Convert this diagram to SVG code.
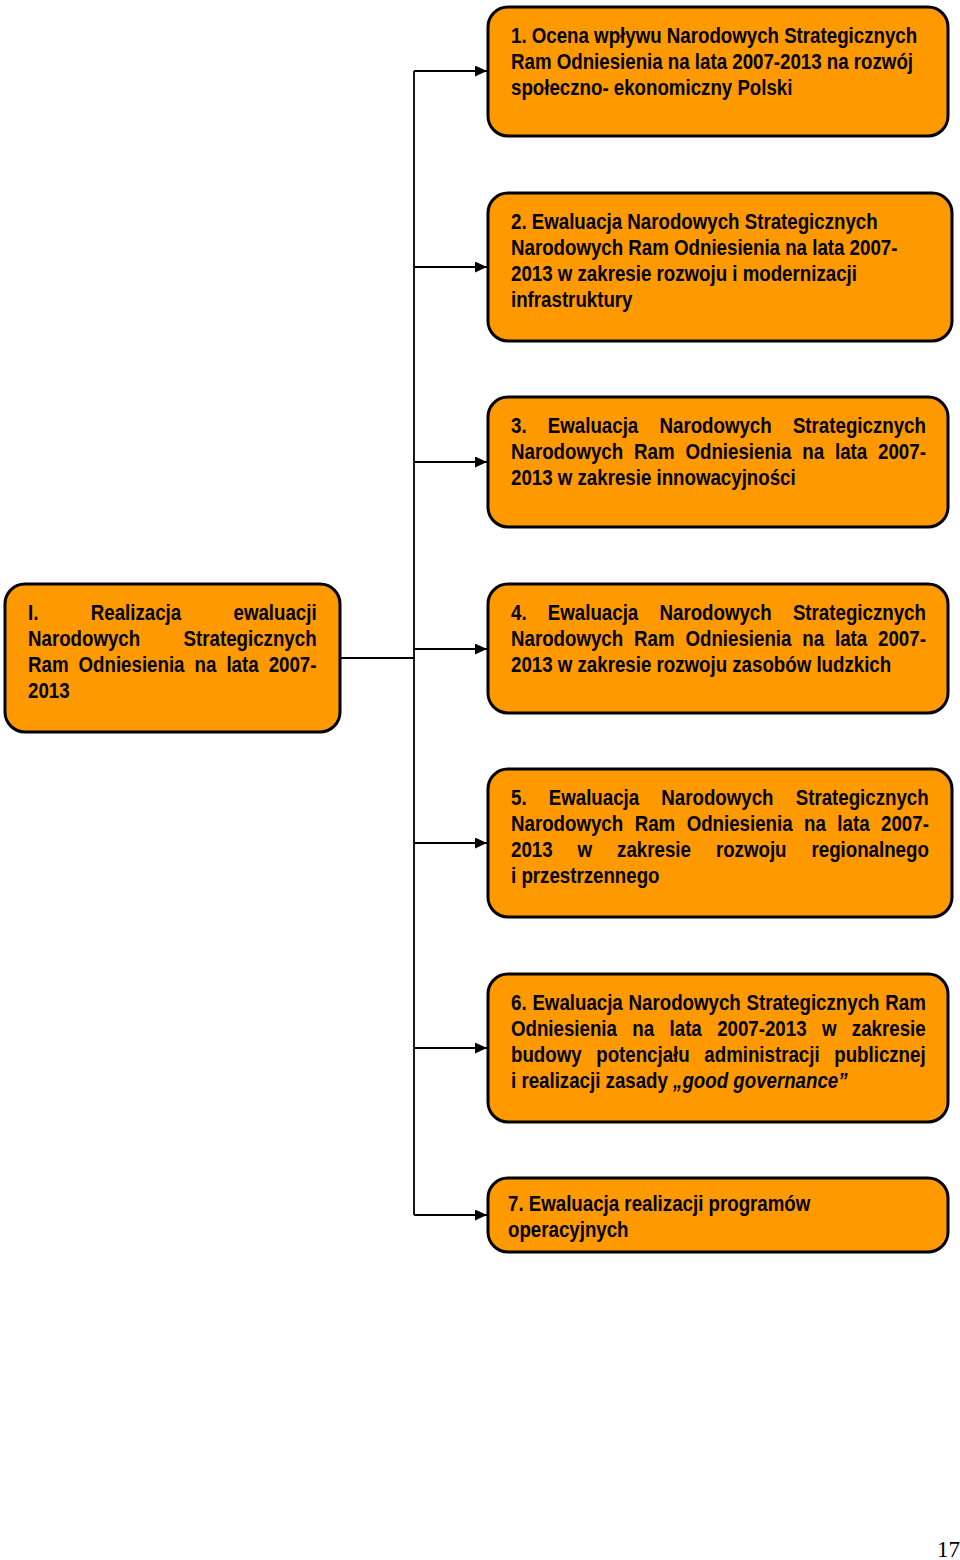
<svg xmlns="http://www.w3.org/2000/svg" width="960" height="1560" viewBox="0 0 960 1560">
<style>
.box{fill:#FF9900;stroke:#000;stroke-width:3}
.t{font-family:"Liberation Sans",Arial,sans-serif;font-weight:bold;font-size:22px;fill:#000}
.it{font-style:italic}
.c{fill:none;stroke:#000;stroke-width:1.8}
.pg{font-family:"Liberation Serif","Times New Roman",serif;font-size:23px;fill:#000}
</style>
<defs>
<marker id="ah" markerUnits="userSpaceOnUse" markerWidth="12" markerHeight="11" refX="12" refY="5.5" orient="auto">
<path d="M0,0 L12,5.5 L0,11 z" fill="#000"/>
</marker>
</defs>
<rect width="960" height="1560" fill="#fff"/>
<g id="connectors">
<path class="c" d="M414,71 V1215"/>
<path class="c" d="M340,658 H414"/>
<path class="c" d="M414,71 H487" marker-end="url(#ah)"/>
<path class="c" d="M414,267 H487" marker-end="url(#ah)"/>
<path class="c" d="M414,462 H487" marker-end="url(#ah)"/>
<path class="c" d="M414,649 H487" marker-end="url(#ah)"/>
<path class="c" d="M414,843 H487" marker-end="url(#ah)"/>
<path class="c" d="M414,1048 H487" marker-end="url(#ah)"/>
<path class="c" d="M414,1215 H487" marker-end="url(#ah)"/>
</g>
<g id="nodeI">
<rect class="box" x="5" y="584" width="335" height="148" rx="20"/>
<text class="t" transform="translate(28,620) scale(0.85,1)" style="word-spacing:55.5px">I. Realizacja ewaluacji</text>
<text class="t" transform="translate(28,646) scale(0.85,1)" style="word-spacing:45px">Narodowych Strategicznych</text>
<text class="t" transform="translate(28,672) scale(0.85,1)" style="word-spacing:5.7px">Ram Odniesienia na lata 2007-</text>
<text class="t" transform="translate(28,698) scale(0.85,1)">2013</text>
</g>
<g id="node1">
<rect class="box" x="488" y="7" width="460" height="129" rx="20"/>
<text class="t" transform="translate(511,43) scale(0.85,1)">1. Ocena wpływu Narodowych Strategicznych</text>
<text class="t" transform="translate(511,69) scale(0.85,1)">Ram Odniesienia na lata 2007-2013 na rozwój</text>
<text class="t" transform="translate(511,95) scale(0.85,1)">społeczno- ekonomiczny Polski</text>
</g>
<g id="node2">
<rect class="box" x="488" y="193" width="464" height="148" rx="20"/>
<text class="t" transform="translate(511,229) scale(0.85,1)">2. Ewaluacja Narodowych Strategicznych</text>
<text class="t" transform="translate(511,255) scale(0.85,1)">Narodowych Ram Odniesienia na lata 2007-</text>
<text class="t" transform="translate(511,281) scale(0.85,1)">2013 w zakresie rozwoju i modernizacji</text>
<text class="t" transform="translate(511,307) scale(0.85,1)">infrastruktury</text>
</g>
<g id="node3">
<rect class="box" x="488" y="397" width="460" height="130" rx="20"/>
<text class="t" transform="translate(511,433) scale(0.85,1)" style="word-spacing:18.9px">3. Ewaluacja Narodowych Strategicznych</text>
<text class="t" transform="translate(511,459) scale(0.85,1)" style="word-spacing:6.7px">Narodowych Ram Odniesienia na lata 2007-</text>
<text class="t" transform="translate(511,485) scale(0.85,1)">2013 w zakresie innowacyjności</text>
</g>
<g id="node4">
<rect class="box" x="488" y="584" width="460" height="129" rx="20"/>
<text class="t" transform="translate(511,620) scale(0.85,1)" style="word-spacing:18.9px">4. Ewaluacja Narodowych Strategicznych</text>
<text class="t" transform="translate(511,646) scale(0.85,1)" style="word-spacing:6.7px">Narodowych Ram Odniesienia na lata 2007-</text>
<text class="t" transform="translate(511,672) scale(0.85,1)">2013 w zakresie rozwoju zasobów ludzkich</text>
</g>
<g id="node5">
<rect class="box" x="488" y="769" width="464" height="148" rx="20"/>
<text class="t" transform="translate(511,805) scale(0.85,1)" style="word-spacing:20px">5. Ewaluacja Narodowych Strategicznych</text>
<text class="t" transform="translate(511,831) scale(0.85,1)" style="word-spacing:7.4px">Narodowych Ram Odniesienia na lata 2007-</text>
<text class="t" transform="translate(511,857) scale(0.85,1)" style="word-spacing:23.3px">2013 w zakresie rozwoju regionalnego</text>
<text class="t" transform="translate(511,883) scale(0.85,1)">i przestrzennego</text>
</g>
<g id="node6">
<rect class="box" x="488" y="974" width="460" height="148" rx="20"/>
<text class="t" transform="translate(511,1010) scale(0.85,1)" style="word-spacing:0.7px">6. Ewaluacja Narodowych Strategicznych Ram</text>
<text class="t" transform="translate(511,1036) scale(0.85,1)" style="word-spacing:12px">Odniesienia na lata 2007-2013 w zakresie</text>
<text class="t" transform="translate(511,1062) scale(0.85,1)" style="word-spacing:11.1px">budowy potencjału administracji publicznej</text>
<text class="t" transform="translate(511,1088) scale(0.85,1)">i realizacji zasady <tspan class="it">„good governance”</tspan></text>
</g>
<g id="node7">
<rect class="box" x="488" y="1178" width="460" height="74" rx="20"/>
<text class="t" transform="translate(508,1211) scale(0.85,1)">7. Ewaluacja realizacji programów</text>
<text class="t" transform="translate(508,1237) scale(0.85,1)">operacyjnych</text>
</g>
<text class="pg" x="937" y="1557">17</text>
</svg>
